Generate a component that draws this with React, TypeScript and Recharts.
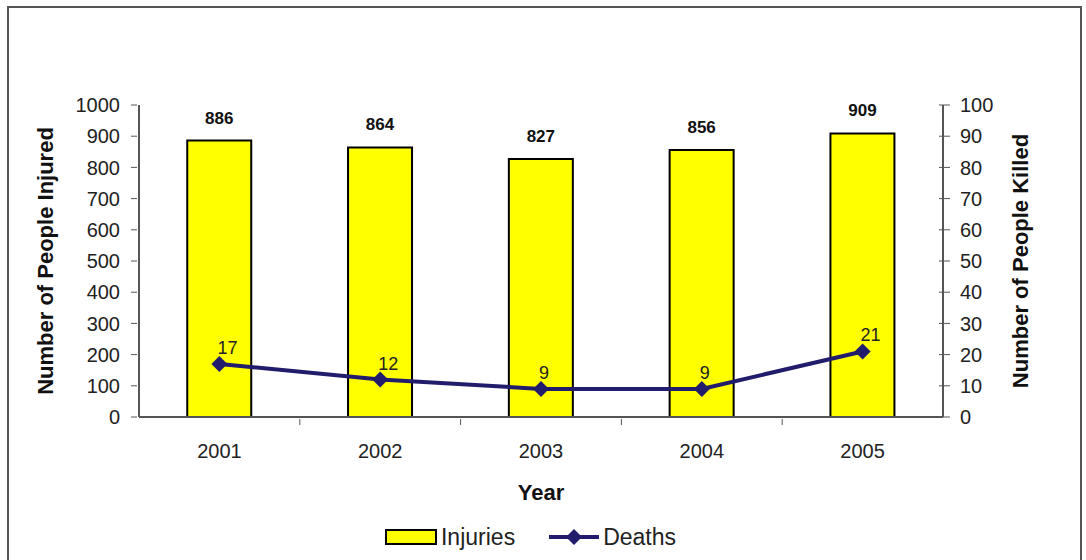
import { Bar, ComposedChart, LabelList, Legend, Line, XAxis, YAxis } from 'recharts';

const years = ['2001', '2002', '2003', '2004', '2005'];
const injuries = [886, 864, 827, 856, 909];
const deaths = [17, 12, 9, 9, 21];
const injuryTicks = [0, 100, 200, 300, 400, 500, 600, 700, 800, 900, 1000];
const deathTicks = [0, 10, 20, 30, 40, 50, 60, 70, 80, 90, 100];

const data = years.map((year, i) => ({ year, injuries: injuries[i], deaths: deaths[i] }));

const W = 1086;
const H = 560;
const LEFT_W = 139;
const RIGHT_W = 143;
const BAND = (W - LEFT_W - RIGHT_W) / years.length;
const FONT = '"Liberation Sans", Arial, sans-serif';
const NAVY = '#211c6b';
const FRAME = '#555';

function LeftTick({ x, y, payload }: any) {
  return (
    <g>
      <line x1={x - 6} y1={y} x2={x} y2={y} stroke={FRAME} strokeWidth={1} />
      <text x={x - 17} y={y} dy="0.36em" textAnchor="end" fontSize={20} fontFamily={FONT} fill="#222">
        {payload.value}
      </text>
    </g>
  );
}

function RightTick({ x, y, payload }: any) {
  return (
    <g>
      <line x1={x - 6} y1={y} x2={x + 5} y2={y} stroke={FRAME} strokeWidth={1} />
      <text x={x + 15} y={y} dy="0.36em" textAnchor="start" fontSize={20} fontFamily={FONT} fill="#222">
        {payload.value}
      </text>
    </g>
  );
}

function YearTick({ x, y, payload, index }: any) {
  return (
    <g>
      {index < years.length - 1 && (
        <line x1={x + BAND / 2} y1={y} x2={x + BAND / 2} y2={y + 6} stroke={FRAME} strokeWidth={1} />
      )}
      <text x={x} y={y + 32} dy="0.36em" textAnchor="middle" fontSize={20} fontFamily={FONT} fill="#222">
        {payload.value}
      </text>
    </g>
  );
}

function Diamond({ cx, cy }: any) {
  if (cx == null || cy == null) return null;
  const r = 8;
  return <polygon points={`${cx},${cy - r} ${cx + r},${cy} ${cx},${cy + r} ${cx - r},${cy}`} fill={NAVY} />;
}

function DeathLabel({ x, y, value }: any) {
  return (
    <text x={x - 2} y={y - 10} fontSize={18} fontFamily={FONT} fill="#222">
      {value}
    </text>
  );
}

function LegendBox() {
  return (
    <div style={{ display: 'flex', justifyContent: 'center', alignItems: 'center', fontFamily: FONT, fontSize: 23, color: '#222', height: 26, paddingRight: 26 }}>
      <svg width={54} height={20} style={{ marginRight: 3 }}>
        <rect x={2} y={3} width={50} height={14} fill="#ffff00" stroke="#000" strokeWidth={2} />
      </svg>
      <span style={{ marginRight: 33 }}>Injuries</span>
      <svg width={52} height={20} style={{ marginRight: 3 }}>
        <line x1={1} y1={10} x2={51} y2={10} stroke={NAVY} strokeWidth={4} />
        <polygon points="26,2 34,10 26,18 18,10" fill={NAVY} />
      </svg>
      <span>Deaths</span>
    </div>
  );
}

export default function App() {
  return (
    <div style={{ position: 'fixed', left: 0, top: 0, width: W, height: H, background: '#fff', overflow: 'hidden' }}>
      <div style={{ position: 'absolute', left: 7, top: 6, width: 1071, height: 600, border: '2px solid #555' }} />
      <div style={{ position: 'absolute', left: 0, top: 0 }}>
        <ComposedChart width={W} height={H} data={data} barCategoryGap="30%" margin={{ top: 105, right: 0, bottom: 10, left: 0 }}>
          <XAxis
            dataKey="year"
            height={107}
            tickSize={0}
            tickLine={false}
            axisLine={{ stroke: FRAME, strokeWidth: 2 }}
            tick={<YearTick />}
            interval={0}
            label={{
              content: ({ viewBox }: any) => (
                <text x={viewBox.x + viewBox.width / 2} y={viewBox.y + 75} dy="0.36em" textAnchor="middle" fontSize={22} fontWeight="bold" fontFamily={FONT} fill="#111">
                  Year
                </text>
              ),
            }}
          />
          <XAxis xAxisId="top" dataKey="year" orientation="top" height={0} tick={false} tickLine={false} axisLine={{ stroke: FRAME, strokeWidth: 2 }} />
          <YAxis
            yAxisId="left"
            width={LEFT_W}
            domain={[0, 1000]}
            ticks={injuryTicks}
            tickSize={0}
            tickLine={false}
            axisLine={{ stroke: FRAME, strokeWidth: 2 }}
            tick={<LeftTick />}
            interval={0}
            label={{
              content: ({ viewBox }: any) => {
                const cx = 45;
                const cy = viewBox.y + viewBox.height / 2;
                return (
                  <text x={cx} y={cy} dy="0.36em" textAnchor="middle" transform={`rotate(-90 ${cx} ${cy})`} fontSize={22} fontWeight="bold" fontFamily={FONT} fill="#111">
                    Number of People Injured
                  </text>
                );
              },
            }}
          />
          <YAxis
            yAxisId="right"
            orientation="right"
            width={RIGHT_W}
            domain={[0, 100]}
            ticks={deathTicks}
            tickSize={0}
            tickLine={false}
            axisLine={{ stroke: FRAME, strokeWidth: 2 }}
            tick={<RightTick />}
            interval={0}
            label={{
              content: ({ viewBox }: any) => {
                const cx = 1020;
                const cy = viewBox.y + viewBox.height / 2;
                return (
                  <text x={cx} y={cy} dy="0.36em" textAnchor="middle" transform={`rotate(-90 ${cx} ${cy})`} fontSize={22} fontWeight="bold" fontFamily={FONT} fill="#111">
                    Number of People Killed
                  </text>
                );
              },
            }}
          />
          <Legend verticalAlign="bottom" height={26} content={() => <LegendBox />} />
          <Bar yAxisId="left" dataKey="injuries" name="Injuries" fill="#ffff00" stroke="#000" strokeWidth={2} isAnimationActive={false}>
            <LabelList dataKey="injuries" position="top" offset={17} fontSize={17} fontWeight="bold" fontFamily={FONT} fill="#111" />
          </Bar>
          <Line yAxisId="right" dataKey="deaths" name="Deaths" stroke={NAVY} strokeWidth={4} dot={<Diamond />} activeDot={false} isAnimationActive={false}>
            <LabelList dataKey="deaths" content={<DeathLabel />} />
          </Line>
        </ComposedChart>
      </div>
    </div>
  );
}
